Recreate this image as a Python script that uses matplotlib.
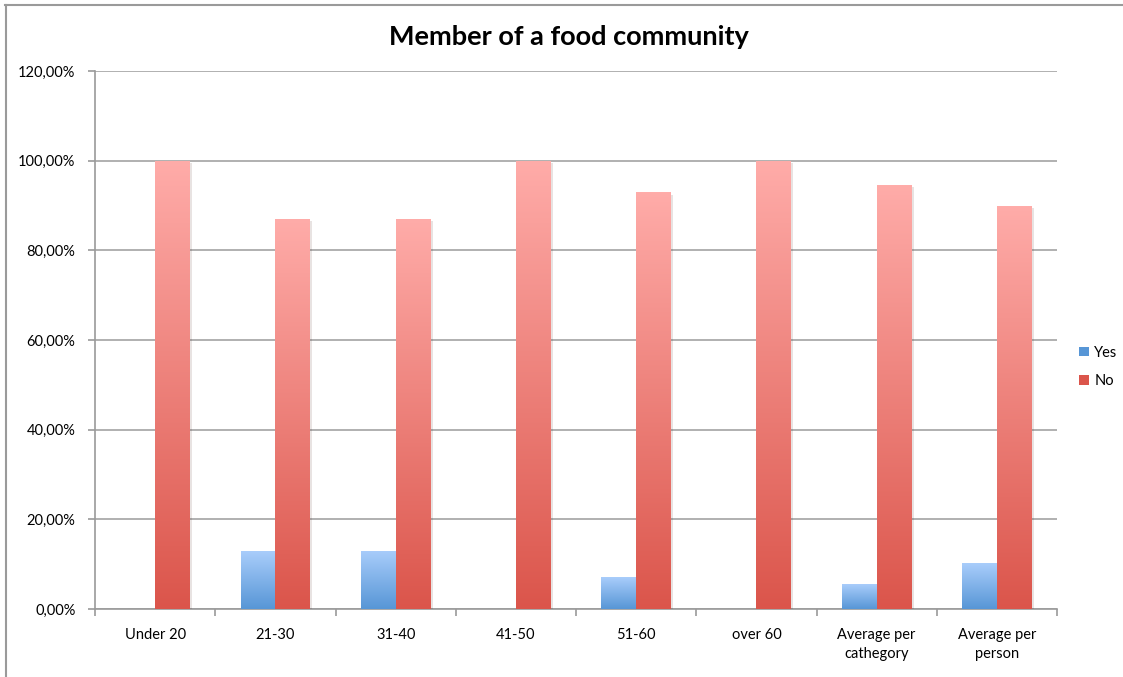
import numpy as np
import matplotlib
matplotlib.use("Agg")
import matplotlib.pyplot as plt
from matplotlib.colors import LinearSegmentedColormap
from matplotlib.lines import Line2D
from matplotlib.patches import Patch
import matplotlib.patheffects as pe

plt.rcParams['font.family'] = ['Lato', 'DejaVu Sans']

categories = ["Under 20", "21-30", "31-40", "41-50", "51-60", "over 60",
              "Average per\ncathegory", "Average per\nperson"]
yes_values = [0.0, 12.9, 13.0, 0.0, 7.1, 0.0, 5.5, 10.2]
no_values = [100.0, 87.1, 87.0, 100.0, 92.9, 100.0, 94.5, 89.8]
y_ticks = [0, 20, 40, 60, 80, 100, 120]

series = [
    ("Yes", yes_values, "#a9cdfb", "#5796d6"),
    ("No", no_values, "#ffaca9", "#db554b"),
]

fig = plt.figure(figsize=(11.23, 6.77), dpi=100)
ax = fig.add_axes([95 / 1123, 68 / 677, 962 / 1123, 538 / 677])

x = np.arange(len(categories))
width = 0.29
grad = np.linspace(0, 1, 256).reshape(-1, 1)

for i, (name, vals, top, bottom) in enumerate(series):
    cmap = LinearSegmentedColormap.from_list(name, [bottom, top])
    offset = (i - 0.5) * width
    bars = ax.bar(x + offset, vals, width, color=bottom, zorder=3,
                  path_effects=[pe.SimplePatchShadow(offset=(1.5, -1.5), alpha=0.12),
                                pe.Normal()])
    for b in bars:
        h = b.get_height()
        if h <= 0:
            continue
        x0 = b.get_x()
        im = ax.imshow(grad, extent=[x0, x0 + b.get_width(), 0, h], origin='lower',
                       cmap=cmap, aspect='auto', zorder=4)
        im.set_clip_path(b)

ax.set_xlim(-0.5, len(categories) - 0.5)
ax.set_ylim(0, 120)
ax.set_yticks(y_ticks)
ax.set_yticklabels([f"{v:.2f}%".replace(".", ",") for v in y_ticks], fontsize=10.5)
ax.yaxis.grid(True, color="#a3a3a3", linewidth=1.2, zorder=1)
ax.set_axisbelow(True)

ax.set_xticks(x)
ax.set_xticklabels(categories, fontsize=10.5, linespacing=1.4)
ax.set_xticks(np.arange(len(categories) + 1) - 0.5, minor=True)
ax.tick_params(axis='x', which='major', length=0, pad=14)
ax.tick_params(axis='x', which='minor', length=5, color="#9a9a9a", width=1.2)
ax.tick_params(axis='y', length=5, color="#9a9a9a", width=1.2, pad=9)

for s in ["top", "right"]:
    ax.spines[s].set_visible(False)
for s in ["left", "bottom"]:
    ax.spines[s].set_color("#9a9a9a")
    ax.spines[s].set_linewidth(1.2)

handles = [Patch(facecolor=s[3], edgecolor='none', label=s[0]) for s in series]
fig.legend(handles=handles, loc='center left', bbox_to_anchor=(1066 / 1123, 1 - 367 / 677),
           frameon=False, fontsize=10.5, handlelength=0.65, handleheight=0.65,
           handletextpad=0.4, labelspacing=1.0)

fig.text(569 / 1123, 1 - 37 / 677, "Member of a food community", ha='center', va='center',
         fontsize=19.5, fontweight='bold')

# outer chart frame (top and left edges)
fig.add_artist(Line2D([5 / 1123, 1], [1 - 5 / 677, 1 - 5 / 677], color="#9a9a9a", lw=1.5))
fig.add_artist(Line2D([6 / 1123, 6 / 1123], [0, 1 - 5 / 677], color="#9a9a9a", lw=1.5))

fig.savefig("out.png", dpi=100)
